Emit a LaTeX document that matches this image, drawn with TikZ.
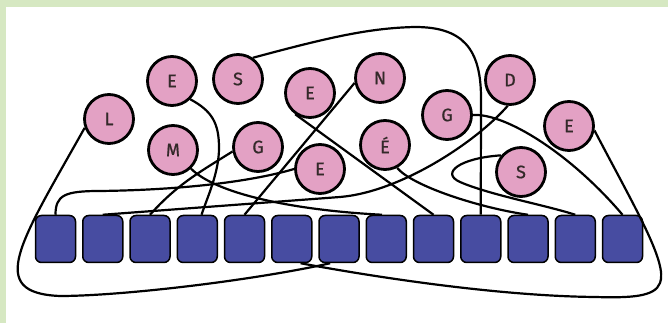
\documentclass[tikz,border=0pt]{standalone}
\usepackage{fontspec}
\usepackage{tikz}
\usetikzlibrary{positioning}
\newfontfamily\letterfont[FakeBold=0.8]{Fira Sans}
\tikzset{letter/.style = {circle, draw, line width=2.8pt, fill=mpink,
                          minimum size=49pt, inner sep=0pt, text=mink,
                          font=\letterfont\fontsize{18}{18}\selectfont}}
\tikzset{box/.style = {draw, line width=1.5pt, fill=mblue, rounded corners=6pt,
                       minimum width=40pt, minimum height=47pt, inner sep=0pt}}
\tikzset{wire/.style = {line width=2.2pt}}
\definecolor{mpink}{rgb}{0.89, 0.63, 0.77}
\definecolor{mblue}{rgb}{0.28, 0.30, 0.63}
\definecolor{mgreen}{rgb}{0.84, 0.91, 0.76}
\definecolor{mink}{rgb}{0.2, 0.16, 0.16}

\begin{document}
\begin{tikzpicture}[x=1pt, y=1pt]
      \useasboundingbox (0, 0) rectangle (668, 323);
      \fill [mgreen] (0, 0) rectangle (668, 323);
      \fill [white] (6, 0) rectangle (668, 316);

      \foreach \n in {0,1,2,3,4,5,6,7,8,9,10,11,12} {
        \node [box] (b\n) at ({55.5 + 47.25 * \n}, 84) {};
      }

      \node [letter] (L) at (109, 204) {L};
      \node [letter] (E1) at (172, 242) {E};
      \node [letter] (S1) at (238, 244) {S};
      \node [letter] (E2) at (310, 230) {E};
      \node [letter] (N) at (380, 245) {N};
      \node [letter] (M) at (173, 173) {M};
      \node [letter] (G1) at (258, 176) {G};
      \node [letter] (E3) at (320, 154) {E};
      \node [letter] (Eacute) at (385, 178) {É};
      \node [letter] (G2) at (447, 208) {G};
      \node [letter] (D) at (510, 243) {D};
      \node [letter] (E4) at (569, 197) {E};
      \node [letter] (S2) at (521, 151) {S};

      \draw [wire] (L.200) .. controls (20, 80) and (-15, 30) .. (60, 27)
                   .. controls (120, 27) and (250, 42) .. (b6.-110);
      \draw [wire] (E4.-10) .. controls (635, 115) and (668, 60) .. (660, 40)
                   .. controls (655, 26) and (630, 25) .. (595, 26)
                   .. controls (500, 27) and (380, 45) .. (b5.-70);
      \draw [wire] (S1.55) .. controls (330, 286) and (370, 295) .. (415, 296)
                   .. controls (462, 296) and (481, 275) .. (481, 225) -- (b9.north);
      \draw [wire] (E1.-45) .. controls (212, 212) and (219, 200) .. (219, 175)
                   .. controls (219, 150) and (207, 125) .. (b3.80);
      \draw [wire] (G1.190) to [out=212, in=48] (b2.north);
      \draw [wire] (N.191) -- (b4.north);
      \draw [wire] (E2.235) -- (b8.north);
      \draw [wire] (Eacute.-62) .. controls (412, 137) and (480, 115) .. (b10.north);
      \draw [wire] (S2.140) .. controls (460, 165) and (440, 150) .. (460, 141)
                   .. controls (490, 128) and (545, 118) .. (b11.north);
      \draw [wire] (G2.east) .. controls (505, 210) and (570, 170) .. (b12.north);
      \draw [wire] (D.-95) .. controls (475, 180) and (400, 131) .. (340, 126) -- (b1.north);
      \draw [wire] (E3.west) .. controls (250, 141) and (180, 133) .. (100, 132)
                   .. controls (65, 132) and (55.5, 128) .. (b0.north);
      \draw [wire] (M.-46) .. controls (215, 130) and (290, 113) .. (b7.100);
    \end{tikzpicture}
\end{document}
